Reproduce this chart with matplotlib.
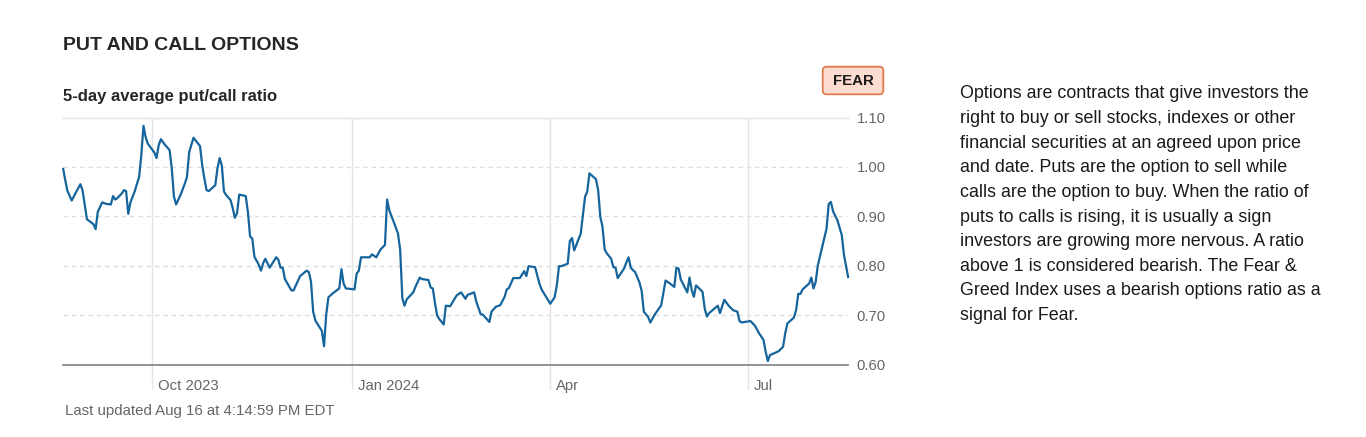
import matplotlib
matplotlib.use("Agg")
import matplotlib.pyplot as plt
import pandas as pd
from matplotlib.patches import FancyBboxPatch
from matplotlib.transforms import IdentityTransform

# ---------------- data ----------------
dates = [
    "2023-08-21", "2023-08-22", "2023-08-23", "2023-08-25", "2023-08-27", "2023-08-29", "2023-08-30",
    "2023-09-01", "2023-09-04", "2023-09-05", "2023-09-06", "2023-09-08", "2023-09-10", "2023-09-12",
    "2023-09-13", "2023-09-14", "2023-09-15", "2023-09-17", "2023-09-18", "2023-09-19", "2023-09-20",
    "2023-09-21", "2023-09-23", "2023-09-25", "2023-09-26", "2023-09-27", "2023-09-28", "2023-09-29",
    "2023-10-02", "2023-10-03", "2023-10-04", "2023-10-05", "2023-10-07", "2023-10-09", "2023-10-10",
    "2023-10-11", "2023-10-12", "2023-10-14", "2023-10-16", "2023-10-17", "2023-10-18", "2023-10-20",
    "2023-10-23", "2023-10-24", "2023-10-25", "2023-10-26", "2023-10-27", "2023-10-30", "2023-10-31",
    "2023-11-01", "2023-11-02", "2023-11-03", "2023-11-04", "2023-11-06", "2023-11-07", "2023-11-08",
    "2023-11-09", "2023-11-10", "2023-11-13", "2023-11-14", "2023-11-15", "2023-11-16", "2023-11-17",
    "2023-11-19", "2023-11-20", "2023-11-21", "2023-11-22", "2023-11-24", "2023-11-27", "2023-11-28",
    "2023-11-29", "2023-11-30", "2023-12-01", "2023-12-04", "2023-12-05", "2023-12-08", "2023-12-11",
    "2023-12-12", "2023-12-13", "2023-12-14", "2023-12-15", "2023-12-18", "2023-12-19", "2023-12-20",
    "2023-12-21", "2023-12-23", "2023-12-26", "2023-12-27", "2023-12-28", "2023-12-29",
    "2024-01-02", "2024-01-03", "2024-01-04", "2024-01-05", "2024-01-09", "2024-01-10", "2024-01-12",
    "2024-01-14", "2024-01-16", "2024-01-17", "2024-01-18", "2024-01-20", "2024-01-22", "2024-01-23",
    "2024-01-24", "2024-01-25", "2024-01-26", "2024-01-29", "2024-01-30", "2024-02-01", "2024-02-02",
    "2024-02-05", "2024-02-06", "2024-02-07", "2024-02-08", "2024-02-09", "2024-02-10", "2024-02-12",
    "2024-02-13", "2024-02-15", "2024-02-17", "2024-02-18", "2024-02-20", "2024-02-22", "2024-02-23",
    "2024-02-26", "2024-02-27", "2024-02-29", "2024-03-01", "2024-03-04", "2024-03-05", "2024-03-06",
    "2024-03-07", "2024-03-09", "2024-03-11", "2024-03-12", "2024-03-13", "2024-03-15", "2024-03-18",
    "2024-03-19", "2024-03-20", "2024-03-21", "2024-03-22", "2024-03-25", "2024-03-27", "2024-03-28",
    "2024-04-01", "2024-04-03", "2024-04-04", "2024-04-05", "2024-04-06", "2024-04-09", "2024-04-10",
    "2024-04-11", "2024-04-12", "2024-04-15", "2024-04-16", "2024-04-17", "2024-04-18", "2024-04-19",
    "2024-04-22", "2024-04-23", "2024-04-24", "2024-04-25", "2024-04-26", "2024-04-27", "2024-04-29",
    "2024-04-30", "2024-05-01", "2024-05-02", "2024-05-05", "2024-05-06", "2024-05-07", "2024-05-08",
    "2024-05-09", "2024-05-10", "2024-05-12", "2024-05-13", "2024-05-14", "2024-05-16", "2024-05-17",
    "2024-05-19", "2024-05-22", "2024-05-24", "2024-05-26", "2024-05-28", "2024-05-29", "2024-05-30",
    "2024-05-31", "2024-06-03", "2024-06-04", "2024-06-05", "2024-06-06", "2024-06-07", "2024-06-08",
    "2024-06-10", "2024-06-11", "2024-06-12", "2024-06-13", "2024-06-17", "2024-06-18", "2024-06-20",
    "2024-06-22", "2024-06-24", "2024-06-26", "2024-06-27", "2024-06-28", "2024-07-02", "2024-07-04",
    "2024-07-06", "2024-07-08", "2024-07-09", "2024-07-10", "2024-07-11", "2024-07-15", "2024-07-17",
    "2024-07-18", "2024-07-19", "2024-07-22", "2024-07-23", "2024-07-24", "2024-07-25", "2024-07-26",
    "2024-07-29", "2024-07-30", "2024-07-31", "2024-08-01", "2024-08-02", "2024-08-06", "2024-08-07",
    "2024-08-08", "2024-08-09", "2024-08-11", "2024-08-13", "2024-08-14", "2024-08-15", "2024-08-16",
]

put_call_ratio = [
    0.998, 0.974, 0.952, 0.932, 0.949, 0.965, 0.952,
    0.894, 0.884, 0.874, 0.909, 0.928, 0.925, 0.924,
    0.941, 0.934, 0.937, 0.946, 0.953, 0.951, 0.905,
    0.928, 0.951, 0.980, 1.024, 1.083, 1.060, 1.047,
    1.029, 1.018, 1.044, 1.056, 1.044, 1.034, 0.997,
    0.940, 0.924, 0.943, 0.966, 0.980, 1.030, 1.059,
    1.042, 1.003, 0.976, 0.953, 0.951, 0.963, 0.997,
    1.018, 1.003, 0.950, 0.943, 0.933, 0.917, 0.897,
    0.906, 0.944, 0.941, 0.909, 0.859, 0.855, 0.818,
    0.802, 0.790, 0.805, 0.814, 0.796, 0.817, 0.812,
    0.796, 0.796, 0.773, 0.750, 0.750, 0.779, 0.790,
    0.787, 0.768, 0.707, 0.689, 0.668, 0.637, 0.701,
    0.736, 0.744, 0.754, 0.793, 0.764, 0.754,
    0.752, 0.784, 0.790, 0.817, 0.817, 0.823, 0.817,
    0.833, 0.842, 0.934, 0.912, 0.889, 0.865, 0.832,
    0.734, 0.719, 0.732, 0.746, 0.757, 0.776, 0.773,
    0.771, 0.756, 0.754, 0.724, 0.699, 0.692, 0.681,
    0.719, 0.718, 0.733, 0.740, 0.746, 0.733, 0.741,
    0.746, 0.727, 0.702, 0.701, 0.686, 0.707, 0.712,
    0.717, 0.720, 0.737, 0.752, 0.755, 0.775, 0.775,
    0.782, 0.789, 0.779, 0.799, 0.797, 0.764, 0.752,
    0.723, 0.736, 0.760, 0.799, 0.799, 0.804, 0.850,
    0.856, 0.831, 0.865, 0.902, 0.940, 0.950, 0.987,
    0.975, 0.953, 0.899, 0.879, 0.833, 0.825, 0.814,
    0.797, 0.796, 0.775, 0.795, 0.807, 0.817, 0.796,
    0.791, 0.787, 0.766, 0.749, 0.707, 0.696, 0.685,
    0.701, 0.720, 0.770, 0.764, 0.757, 0.796, 0.794,
    0.772, 0.746, 0.776, 0.751, 0.737, 0.760, 0.756,
    0.747, 0.713, 0.697, 0.704, 0.719, 0.704, 0.731,
    0.719, 0.710, 0.707, 0.688, 0.685, 0.688, 0.679,
    0.663, 0.650, 0.626, 0.607, 0.619, 0.627, 0.636,
    0.663, 0.683, 0.695, 0.710, 0.743, 0.743, 0.752,
    0.764, 0.776, 0.754, 0.767, 0.801, 0.875, 0.925,
    0.929, 0.910, 0.892, 0.862, 0.822, 0.798, 0.775,
]

y_ticks = [0.60, 0.70, 0.80, 0.90, 1.00, 1.10]
x_tick_dates = ["2023-10-01", "2024-01-01", "2024-04-01", "2024-07-01"]
x_tick_labels = ["Oct 2023", "Jan 2024", "Apr", "Jul"]
x_range = ["2023-08-21", "2024-08-16"]

title_text = "PUT AND CALL OPTIONS"
subtitle_text = "5-day average put/call ratio"
badge_text = "FEAR"
updated_text = "Last updated Aug 16 at 4:14:59 PM EDT"
description_lines = [
    "Options are contracts that give investors the",
    "right to buy or sell stocks, indexes or other",
    "financial securities at an agreed upon price",
    "and date. Puts are the option to sell while",
    "calls are the option to buy. When the ratio of",
    "puts to calls is rising, it is usually a sign",
    "investors are growing more nervous. A ratio",
    "above 1 is considered bearish. The Fear &",
    "Greed Index uses a bearish options ratio as a",
    "signal for Fear.",
]

# ---------------- style ----------------
plt.rcParams["font.family"] = ["Liberation Sans", "DejaVu Sans"]
W, H = 1366, 437
LINE_COLOR = "#15649b"
GRID = "#e4e4e4"
AXIS_TEXT = "#666666"

fig = plt.figure(figsize=(W / 100, H / 100), dpi=100)
fig.patch.set_facecolor("white")

ax_left, ax_right, ax_top, ax_bottom = 63, 848.3, 117.5, 364.5
ax = fig.add_axes([ax_left / W, 1 - ax_bottom / H,
                   (ax_right - ax_left) / W, (ax_bottom - ax_top) / H])
for s in ax.spines.values():
    s.set_visible(False)

x = pd.to_datetime(dates)
ax.plot(x, put_call_ratio, color=LINE_COLOR, lw=1.6, solid_joinstyle="round",
        solid_capstyle="butt", zorder=5, clip_on=False)

ax.set_ylim(y_ticks[0], y_ticks[-1])
ax.set_xlim(pd.Timestamp(x_range[0]), pd.Timestamp(x_range[1]))

# horizontal grid
for v in y_ticks:
    if v == y_ticks[0]:
        ax.axhline(v, color="#8a8a8a", lw=1.3, zorder=4, clip_on=False)
    elif v == y_ticks[-1]:
        ax.axhline(v, color=GRID, lw=1.0, zorder=1, clip_on=False)
    else:
        ax.axhline(v, color="#dcdcdc", lw=1.0, ls=(0, (3, 3)), zorder=1)

ax.yaxis.tick_right()
ax.set_yticks(y_ticks)
ax.set_yticklabels([f"{v:.2f}" for v in y_ticks])
ax.tick_params(axis="y", length=0, pad=6.0, labelsize=10.7, labelcolor=AXIS_TEXT)

xt = pd.to_datetime(x_tick_dates)
ax.set_xticks(xt)
ax.set_xticklabels([])
ax.tick_params(axis="x", length=17, width=1.0, color=GRID, direction="out")
ax.grid(axis="x", color=GRID, lw=1.0, zorder=1)
for d, lab in zip(xt, x_tick_labels):
    ax.annotate(lab, xy=(d, 0), xycoords=("data", "axes fraction"),
                xytext=(4.3, -15.5), textcoords="offset points",
                ha="left", va="center", fontsize=10.7, color=AXIS_TEXT)

# ---------------- texts ----------------
def fx(px):
    return px / W

def fy(py):
    return 1 - py / H

fig.text(fx(63), fy(46), title_text, fontsize=14, fontweight="bold",
         color="#262626", ha="left", va="center")
fig.text(fx(63), fy(97), subtitle_text, fontsize=12, fontweight="bold",
         color="#262626", ha="left", va="center")
fig.text(fx(65), fy(411.5), updated_text, fontsize=10.8, color=AXIS_TEXT,
         ha="left", va="center")

# badge
bx0, by0, bx1, by1 = 822.7, 66.7, 883.3, 94.3
badge = FancyBboxPatch((bx0, H - by1), bx1 - bx0, by1 - by0,
                       boxstyle="round,pad=0,rounding_size=4",
                       transform=IdentityTransform(),
                       facecolor="#fcdcd0", edgecolor="#de7b4b", lw=1.3)
fig.add_artist(badge)
fig.text(fx((bx0 + bx1) / 2), fy((by0 + by1) / 2 + 0.5), badge_text, fontsize=10.8,
         fontweight="bold", color="#1a1a1a", ha="center", va="center")

# description paragraph
for i, line in enumerate(description_lines):
    fig.text(fx(960), fy(94 + i * 24.6), line, fontsize=12.9, color="#1a1a1a",
             ha="left", va="center")

fig.savefig("out.png", dpi=100, facecolor="white")
